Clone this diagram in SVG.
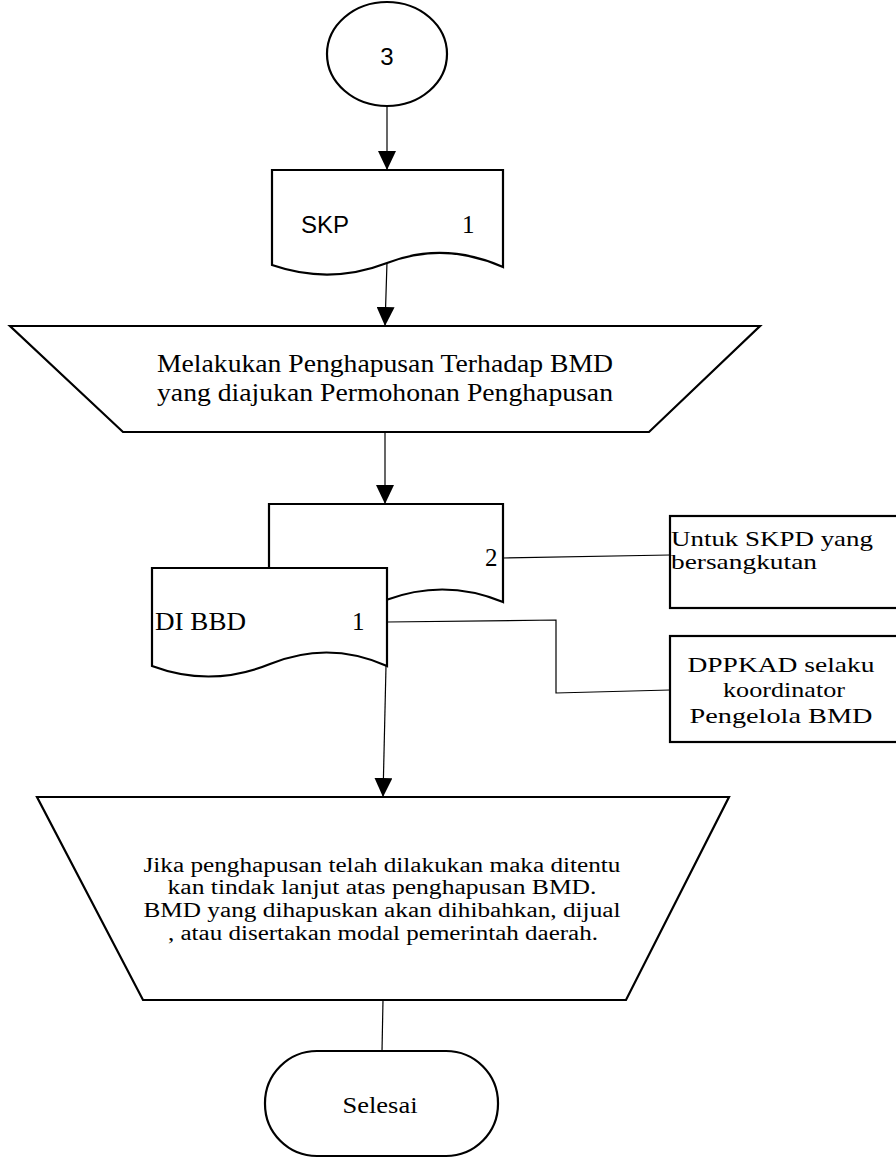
<svg xmlns="http://www.w3.org/2000/svg" width="896" height="1158" viewBox="0 0 896 1158">
<style>
.sh{fill:#fff;stroke:#000;stroke-width:2.2}
.cn{fill:none;stroke:#000;stroke-width:1.2}
.sf{font-family:"Liberation Serif","Times New Roman",serif;fill:#000}
.ss{font-family:"Liberation Sans",Arial,sans-serif;fill:#000}
</style>
<defs>
<marker id="arr" markerUnits="userSpaceOnUse" markerWidth="19" markerHeight="18" viewBox="0 0 19 18" refX="19" refY="9" orient="auto"><path d="M0,0 L19,9 L0,18 Z" fill="#000"/></marker>
</defs>
<rect width="896" height="1158" fill="#fff"/>
<g id="connectors">
<line class="cn" x1="387" y1="106" x2="387" y2="170" marker-end="url(#arr)"/>
<line class="cn" x1="387" y1="262" x2="385" y2="326" marker-end="url(#arr)"/>
<line class="cn" x1="385" y1="432" x2="385" y2="504" marker-end="url(#arr)"/>
<line class="cn" x1="503" y1="558" x2="670" y2="555"/>
<polyline class="cn" points="387,622 556,620 556,693 670,690"/>
<line class="cn" x1="386" y1="666" x2="383" y2="797" marker-end="url(#arr)"/>
<line class="cn" x1="383" y1="1000" x2="382" y2="1051"/>
</g>
<g id="start">
<ellipse class="sh" cx="387" cy="54" rx="60" ry="52"/>
<text class="ss" x="387" y="65" font-size="24" text-anchor="middle">3</text>
</g>
<g id="skp">
<path class="sh" d="M272,265 V170 H503 V267 Q444,241 387,263 Q330,285 272,265 Z"/>
<text class="ss" x="301" y="233" font-size="24">SKP</text>
<text class="sf" x="462" y="233" font-size="25">1</text>
</g>
<g id="proses1">
<path class="sh" d="M10,326 H760 L649,432 H123 Z"/>
<text class="sf" x="385" y="372" font-size="26" text-anchor="middle" textLength="456" lengthAdjust="spacingAndGlyphs">Melakukan Penghapusan Terhadap BMD</text>
<text class="sf" x="385" y="401" font-size="26" text-anchor="middle" textLength="456" lengthAdjust="spacingAndGlyphs">yang diajukan Permohonan Penghapusan</text>
</g>
<g id="doc2">
<path class="sh" d="M269,600 V504 H503 V602 Q445,578 386,600 Q327,622 269,600 Z"/>
<text class="sf" x="485" y="566" font-size="25">2</text>
</g>
<g id="doc1">
<path class="sh" d="M152,666 V568 H387 V666 Q329,640 270,664 Q211,688 152,666 Z"/>
<text class="sf" x="155" y="630" font-size="26" textLength="91" lengthAdjust="spacingAndGlyphs">DI BBD</text>
<text class="sf" x="352" y="630" font-size="25">1</text>
</g>
<g id="untuk">
<rect class="sh" x="670" y="516" width="240" height="92"/>
<text class="sf" x="671" y="546" font-size="21" textLength="202" lengthAdjust="spacingAndGlyphs">Untuk SKPD yang</text>
<text class="sf" x="671" y="569" font-size="21" textLength="146" lengthAdjust="spacingAndGlyphs">bersangkutan</text>
</g>
<g id="dppkad">
<rect class="sh" x="670" y="636" width="240" height="106"/>
<text class="sf" x="781" y="672" font-size="22" text-anchor="middle" textLength="187" lengthAdjust="spacingAndGlyphs">DPPKAD selaku</text>
<text class="sf" x="784" y="697" font-size="22" text-anchor="middle" textLength="122" lengthAdjust="spacingAndGlyphs">koordinator</text>
<text class="sf" x="781" y="723" font-size="22" text-anchor="middle" textLength="183" lengthAdjust="spacingAndGlyphs">Pengelola BMD</text>
</g>
<g id="proses2">
<path class="sh" d="M37,797 H729 L626,1000 H143 Z"/>
<text class="sf" x="382" y="872" font-size="20" text-anchor="middle" textLength="477" lengthAdjust="spacingAndGlyphs">Jika penghapusan telah dilakukan maka ditentu</text>
<text class="sf" x="382" y="894" font-size="20" text-anchor="middle" textLength="429" lengthAdjust="spacingAndGlyphs">kan tindak lanjut atas penghapusan BMD.</text>
<text class="sf" x="382" y="917" font-size="20" text-anchor="middle" textLength="477" lengthAdjust="spacingAndGlyphs">BMD yang dihapuskan akan dihibahkan, dijual</text>
<text class="sf" x="383" y="940" font-size="20" text-anchor="middle" textLength="430" lengthAdjust="spacingAndGlyphs">, atau disertakan modal pemerintah daerah.</text>
</g>
<g id="selesai">
<rect class="sh" x="265" y="1051" width="233" height="105" rx="52" ry="52"/>
<text class="sf" x="380" y="1113" font-size="23" text-anchor="middle" textLength="75" lengthAdjust="spacingAndGlyphs">Selesai</text>
</g>
</svg>
